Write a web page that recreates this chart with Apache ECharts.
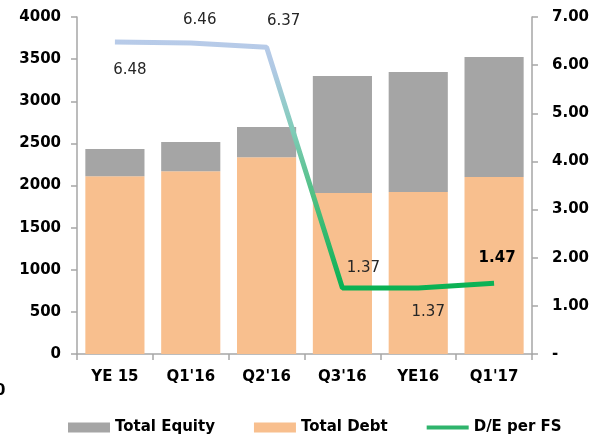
<!DOCTYPE html>
<html>
<head>
<meta charset="utf-8">
<script src="https://cdn.jsdelivr.net/npm/echarts@6/dist/echarts.min.js"></script>
<style>
  html, body { margin: 0; padding: 0; background: #fff; }
  #chart { width: 592px; height: 436px; }
</style>
</head>
<body>
<div id="chart"></div>
<script>
var categories = ["YE 15", "Q1'16", "Q2'16", "Q3'16", "YE16", "Q1'17"];
var totalDebt = [2110, 2170, 2335, 1910, 1922, 2100];
var totalEquity = [322, 345, 358, 1390, 1425, 1425];
var deRatio = [6.48, 6.46, 6.37, 1.37, 1.37, 1.47];
var leftTicks = [0, 500, 1000, 1500, 2000, 2500, 3000, 3500, 4000];

var font = "DejaVu Sans";
var axisColor = "#a6a6a6";

// label placement per point, like the source picture
var labelPos = [
  { position: "bottom", offset: [15, 15] },
  { position: "top", offset: [9, -10] },
  { position: "top", offset: [17, -13] },
  { position: "top", offset: [21, -7] },
  { position: "bottom", offset: [10, 11] },
  { position: "top", offset: [3, -12], fontWeight: "bold" }
];

var lineData = deRatio.map(function (v, i) {
  var p = labelPos[i];
  return {
    value: v,
    label: {
      position: p.position,
      offset: p.offset,
      fontWeight: p.fontWeight || "normal",
      color: p.fontWeight ? "#000" : "#262626"
    }
  };
});

var chart = echarts.init(document.getElementById("chart"));
var option = {
  animation: false,
  textStyle: { fontFamily: font },
  grid: { left: 77, right: 60, top: 17, bottom: 82, containLabel: false },
  legend: {
    bottom: -4,
    left: 63,
    itemWidth: 42,
    itemHeight: 10,
    itemGap: 39,
    textStyle: { fontFamily: font, fontSize: 15, fontWeight: "bold", color: "#000" },
    data: [
      { name: "Total Equity", icon: "rect" },
      { name: "Total Debt", icon: "rect" },
      { name: "D/E per FS", icon: "path://M0,0 L42,0 L42,4 L0,4 Z", itemStyle: { color: "#2fb46c" } }
    ]
  },
  graphic: [
    { type: "text", left: -5, top: 384, style: { text: "0", font: "bold 15px DejaVu Sans", fill: "#000" } }
  ],
  xAxis: {
    type: "category",
    data: categories,
    axisLine: { lineStyle: { color: axisColor, width: 1.5 } },
    axisTick: { show: true, length: 6, lineStyle: { color: axisColor, width: 1.5 } },
    axisLabel: { fontFamily: font, fontSize: 15, fontWeight: "bold", color: "#000", margin: 16 }
  },
  yAxis: [
    {
      type: "value",
      min: 0,
      max: 4000,
      interval: 500,
      splitLine: { show: false },
      axisLine: { show: true, lineStyle: { color: axisColor, width: 1.5 } },
      axisTick: { show: true, length: 6, lineStyle: { color: axisColor, width: 1.5 } },
      axisLabel: { fontFamily: font, fontSize: 15, fontWeight: "bold", color: "#000", margin: 16,
        formatter: function (v) { return leftTicks.indexOf(v) >= 0 ? String(v) : ""; } }
    },
    {
      type: "value",
      min: 0,
      max: 7,
      interval: 1,
      splitLine: { show: false },
      axisLine: { show: true, lineStyle: { color: axisColor, width: 1.5 } },
      axisTick: { show: true, length: 6, lineStyle: { color: axisColor, width: 1.5 } },
      axisLabel: { fontFamily: font, fontSize: 15, fontWeight: "bold", color: "#000", margin: 20,
        formatter: function (v) { return v === 0 ? "-" : v.toFixed(2); } }
    }
  ],
  series: [
    {
      name: "Total Debt",
      type: "bar",
      stack: "total",
      barCategoryGap: "22%",
      itemStyle: { color: "#f8bf8e" },
      data: totalDebt
    },
    {
      name: "Total Equity",
      type: "bar",
      stack: "total",
      barCategoryGap: "22%",
      itemStyle: { color: "#a5a5a5" },
      data: totalEquity
    },
    {
      name: "D/E per FS",
      type: "line",
      yAxisIndex: 1,
      symbol: "circle",
      symbolSize: 1,
      showSymbol: true,
      z: 5,
      itemStyle: { color: "rgba(0,0,0,0)" },
      lineStyle: {
        width: 5,
        color: new echarts.graphic.LinearGradient(0, 0, 0, 1, [
          { offset: 0, color: "#b8cbe9" },
          { offset: 0.12, color: "#b0c9e4" },
          { offset: 0.36, color: "#80ccb8" },
          { offset: 0.64, color: "#4cbf80" },
          { offset: 1, color: "#08b152" }
        ])
      },
      label: {
        show: true,
        fontFamily: font,
        fontSize: 15,
        color: "#262626",
        formatter: function (p) { return Number(p.value).toFixed(2); }
      },
      data: lineData
    }
  ]
};
chart.setOption(option);
window.addEventListener("resize", function () { chart && chart.resize(); });
</script>
</body>
</html>
